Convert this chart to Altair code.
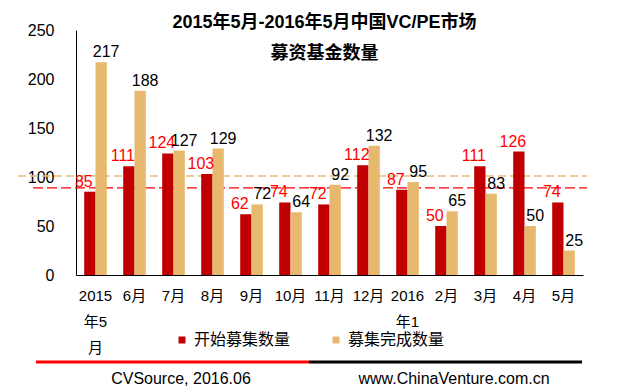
import altair as alt
import pandas as pd

# ---- data ----
categories = ["2015|年5|月", "6月", "7月", "8月", "9月", "10月", "11月", "12月",
              "2016|年1", "2月", "3月", "4月", "5月"]
series = ["开始募集数量", "募集完成数量"]
started = [85, 111, 124, 103, 62, 74, 72, 112, 87, 50, 111, 126, 74]
completed = [217, 188, 127, 129, 72, 64, 92, 132, 95, 65, 83, 50, 25]
avg_values = [89, 101]          # dashed reference lines (started, completed)
y_ticks = [0, 50, 100, 150, 200, 250]

title_lines = ["2015年5月-2016年5月中国VC/PE市场", "募资基金数量"]
footer_left = "CVSource, 2016.06"
footer_right = "www.ChinaVenture.com.cn"

bar_colors = ["#C00000", "#E6B96E"]
label_colors = ["#FF0000", "#000000"]
avg_colors = ["#FF0000", "#E8BE78"]

FONT = "Liberation Sans, Noto Sans CJK SC, sans-serif"

rows = []
for i, c in enumerate(categories):
    rows.append({"cat": c, "series": series[0], "value": started[i]})
    rows.append({"cat": c, "series": series[1], "value": completed[i]})
df = pd.DataFrame(rows)
avg_df = pd.DataFrame({"series": series, "avg": avg_values})

x_enc = alt.X(
    "cat:N", sort=categories, title=None,
    scale=alt.Scale(paddingInner=0.42, paddingOuter=0.21),
    axis=alt.Axis(labelExpr="split(datum.value, '|')", labelAngle=0,
                  labelFontSize=15, labelLineHeight=26, labelPadding=13,
                  labelBaseline="top", ticks=False, domainColor="black",
                  labelColor="black", labelFont=FONT, grid=False),
)
xo_enc = alt.XOffset("series:N", sort=series,
                     scale=alt.Scale(paddingInner=0, paddingOuter=0))
y_enc = alt.Y(
    "value:Q", title=None,
    scale=alt.Scale(domain=[0, 250], nice=False),
    axis=alt.Axis(values=y_ticks, ticks=False, labelPadding=22,
                  labelFontSize=16, labelFont=FONT, labelColor="black",
                  domainColor="black", grid=False),
)

base = alt.Chart(df)

rules = []
rule_x = [-43, -58]
rule_dash = [[10, 4], [8, 4]]
for k in range(2):
    rules.append(
        alt.Chart(avg_df).transform_filter(alt.datum.series == series[k])
        .mark_rule(color=avg_colors[k], strokeDash=rule_dash[k], strokeWidth=1.3)
        .encode(y=alt.Y("avg:Q"), x=alt.value(rule_x[k]), x2=alt.value(511))
    )

bars = base.mark_bar().encode(
    x=x_enc, xOffset=xo_enc, y=y_enc,
    color=alt.Color(
        "series:N", sort=series,
        scale=alt.Scale(domain=series, range=bar_colors),
        legend=alt.Legend(title=None, orient="none", legendX=98, legendY=302,
                          direction="horizontal", symbolType="square",
                          symbolSize=49, symbolStrokeWidth=0, labelFontSize=16,
                          labelFont=FONT, labelColor="black", columnPadding=37,
                          labelOffset=4, padding=0),
    ),
)

texts = []
label_dx = [-6, 5]
for k in range(2):
    texts.append(
        base.transform_filter(alt.datum.series == series[k])
        .mark_text(baseline="alphabetic", dy=-5, dx=label_dx[k], fontSize=16,
                   font=FONT, color=label_colors[k])
        .encode(x=x_enc, xOffset=xo_enc, y=y_enc, text=alt.Text("value:Q"))
    )

one = alt.Data(values=[{}])
footer_line_red = alt.Chart(one).mark_rule(color="#FF0000", strokeWidth=3).encode(
    x=alt.value(-40), x2=alt.value(233), y=alt.value(332))
footer_line_black = alt.Chart(one).mark_rule(color="#000000", strokeWidth=3).encode(
    x=alt.value(233), x2=alt.value(506), y=alt.value(332))
footer_t1 = alt.Chart(one).mark_text(fontSize=16, font=FONT, color="black").encode(
    text=alt.value(footer_left), x=alt.value(105), y=alt.value(349))
footer_t2 = alt.Chart(one).mark_text(fontSize=16, font=FONT, color="black").encode(
    text=alt.value(footer_right), x=alt.value(378), y=alt.value(349))

chart = alt.layer(
    *rules, bars, *texts, footer_line_red, footer_line_black, footer_t1, footer_t2
).properties(
    width=507, height=245,
    padding={"left": 68, "top": 22, "right": 28, "bottom": 115},
    autosize=alt.AutoSizeParams(type="none"),
    title=alt.TitleParams(text=title_lines, fontSize=18, fontWeight="bold",
                          font=FONT, lineHeight=31, anchor="middle",
                          frame="group", baseline="alphabetic", offset=-55,
                          dx=-5, color="black"),
).configure_view(stroke=None).configure_axis(grid=False)

chart.save("out.html", embed_options={"renderer": "svg", "actions": False})
